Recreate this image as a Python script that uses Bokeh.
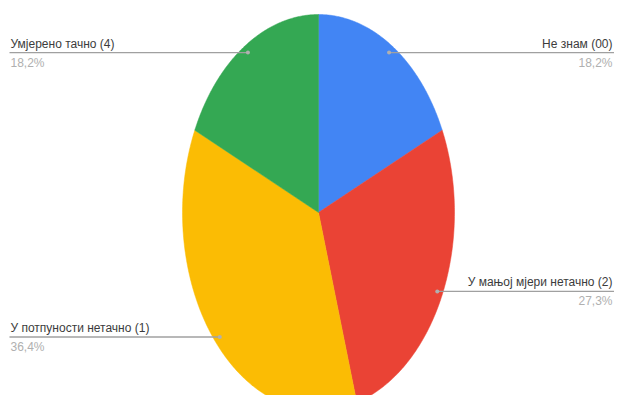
import numpy as np
from bokeh.plotting import figure
from bokeh.models import Range1d
from bokeh.core.properties import value
from bokeh.embed import file_html
from bokeh.resources import INLINE

# ---- data ----
labels = ["Не знам (00)", "У мањој мјери нетачно (2)", "У потпуности нетачно (1)", "Умјерено тачно (4)"]
counts = [2, 3, 4, 2]
colors = ["#4285F4", "#EA4335", "#FBBC04", "#34A853"]

W, H = 614, 395
p = figure(width=W, height=H, output_backend="svg", toolbar_location=None,
           x_range=Range1d(0, W), y_range=Range1d(H, 0),
           min_border=0, outline_line_color=None)
p.axis.visible = False
p.grid.visible = False
p.background_fill_color = "white"

cx, cy, rx, ry = 318, 212, 136, 198
total = sum(counts)
fracs = [c / total for c in counts]
cum = np.concatenate([[0], np.cumsum(fracs)])

xs, ys = [], []
for i in range(len(counts)):
    a0, a1 = cum[i] * 2 * np.pi, cum[i + 1] * 2 * np.pi
    t = np.linspace(a0, a1, 150)
    xs.append([cx] + list(cx + rx * np.sin(t)) + [cx])
    ys.append([cy] + list(cy - ry * np.cos(t)) + [cy])
p.patches(xs, ys, fill_color=colors, line_color=colors, line_width=0.5)

font = value("Liberation Sans")
f = 0.96
for i in range(len(counts)):
    mid = (cum[i] + cum[i + 1]) * np.pi
    dx = cx + f * rx * np.sin(mid)
    dy = cy - f * ry * np.cos(mid)
    right = np.sin(mid) > 0
    x_end = W if right else 9
    p.line([dx, x_end], [dy, dy], line_color="#a0a0a0", line_width=1.3)
    p.scatter([dx], [dy], size=4, color="#b0b0b0", line_color=None)
    tx = W - 2 if right else 10
    align = "right" if right else "left"
    pct = f"{fracs[i] * 100:.1f}%".replace(".", ",")
    p.text([tx], [dy - 2], text=[labels[i]], text_font=font, text_font_size="12px",
           text_color="#3c3c3c", text_align=align, text_baseline="bottom")
    p.text([tx], [dy + 3], text=[pct], text_font=font, text_font_size="12px",
           text_color="#b0b0b0", text_align=align, text_baseline="top")

open("out.html", "w").write(file_html(p, INLINE))
